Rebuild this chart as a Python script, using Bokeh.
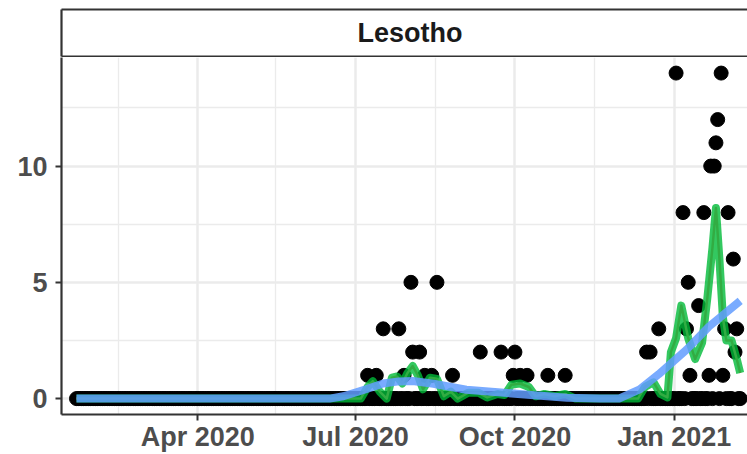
import pandas as pd
from bokeh.plotting import figure
from bokeh.models import (Range1d, FixedTicker, DatetimeTickFormatter,
                          ColumnDataSource, LinearAxis)
from bokeh.layouts import column
from bokeh.embed import file_html
from bokeh.resources import INLINE
from bokeh.core.properties import value

# ---------------- data ----------------
facet_label = "Lesotho"
series_start = "2020-01-22"
series_end = "2021-02-08"

# days with a non-zero count (all other days in the series are 0)
nonzero_dates = [
    "2020-07-08", "2020-07-13", "2020-07-17", "2020-07-26", "2020-07-29",
    "2020-08-02", "2020-08-03", "2020-08-07", "2020-08-10", "2020-08-14",
    "2020-08-17", "2020-08-26", "2020-09-11", "2020-09-23", "2020-09-30",
    "2020-10-01", "2020-10-04", "2020-10-08", "2020-10-20", "2020-10-30",
    "2020-12-16", "2020-12-18", "2020-12-23", "2021-01-02", "2021-01-06",
    "2021-01-08", "2021-01-09", "2021-01-10", "2021-01-15", "2021-01-18",
    "2021-01-21", "2021-01-22", "2021-01-24", "2021-01-25", "2021-01-26",
    "2021-01-28", "2021-01-29", "2021-01-30", "2021-02-01", "2021-02-04",
    "2021-02-05", "2021-02-06",
]
nonzero_values = [
    1, 1, 3, 3, 1,
    5, 2, 2, 1, 1,
    5, 1, 2, 2, 1,
    2, 1, 1, 1, 1,
    2, 2, 3, 14, 8,
    3, 5, 1, 4, 8,
    1, 10, 10, 11, 12,
    14, 1, 3, 8, 6,
    2, 3,
]

# rolling average line
avg_dates = [
    "2020-01-22", "2020-07-04", "2020-07-08", "2020-07-11", "2020-07-15",
    "2020-07-19", "2020-07-22", "2020-07-25", "2020-07-28", "2020-07-31",
    "2020-08-03", "2020-08-06", "2020-08-09", "2020-08-13", "2020-08-17",
    "2020-08-21", "2020-08-25", "2020-08-29", "2020-09-04", "2020-09-10",
    "2020-09-15", "2020-09-21", "2020-09-25", "2020-09-29", "2020-10-04",
    "2020-10-09", "2020-10-13", "2020-10-18", "2020-10-24", "2020-10-30",
    "2020-11-05", "2020-12-11", "2020-12-15", "2020-12-20", "2020-12-24",
    "2020-12-28", "2020-12-30", "2021-01-02", "2021-01-05", "2021-01-09",
    "2021-01-13", "2021-01-17", "2021-01-20", "2021-01-23", "2021-01-25",
    "2021-01-27", "2021-01-29", "2021-01-31", "2021-02-03", "2021-02-06",
    "2021-02-08",
]
avg_values = [
    0.0, 0.0, 0.5, 0.75, 0.3,
    0.0, 0.9, 0.95, 0.65, 1.1,
    1.4, 1.0, 0.4, 0.9, 0.85,
    0.1, 0.3, 0.0, 0.25, 0.25,
    0.05, 0.2, 0.15, 0.6, 0.65,
    0.5, 0.1, 0.2, 0.1, 0.2,
    0.0, 0.0, 0.5, 0.7, 0.2,
    0.05, 2.0, 2.6, 4.0, 2.6,
    1.7, 2.4, 4.3, 6.5, 8.2,
    6.0, 3.5, 2.5, 2.5, 1.7,
    1.1,
]

# smooth trend line
trend_dates = [
    "2020-01-22", "2020-06-16", "2020-06-24", "2020-07-07", "2020-07-17",
    "2020-07-26", "2020-08-03", "2020-08-15", "2020-09-03", "2020-09-23",
    "2020-10-12", "2020-10-31", "2020-11-19", "2020-11-30", "2020-12-12",
    "2020-12-23", "2021-01-08", "2021-01-21", "2021-02-08",
]
trend_values = [
    0.0, 0.0, 0.1, 0.4, 0.65,
    0.74, 0.76, 0.64, 0.38, 0.26,
    0.14, 0.04, 0.0, 0.0, 0.4,
    1.05, 2.1, 3.1, 4.2,
]

x_tick_dates = ["2020-04-01", "2020-07-01", "2020-10-01", "2021-01-01"]
x_minor_dates = ["2020-02-15", "2020-05-16", "2020-08-16", "2020-11-16", "2021-02-15"]
y_ticks = [0, 5, 10]
y_minor = [2.5, 7.5, 12.5]
x_limits = ["2020-01-13 08:24", "2021-02-12 05:00"]
y_limits = [-0.684, 14.67]
strip_label_date = "2020-08-01 11:00"

# ---------------- build ----------------
nz = dict(zip(pd.to_datetime(nonzero_dates), nonzero_values))
all_days = list(pd.date_range(series_start, series_end, freq="D"))
pt_y = [nz.get(d, 0) for d in all_days]
points = ColumnDataSource(dict(x=all_days, y=pt_y))
avg = ColumnDataSource(dict(x=pd.to_datetime(avg_dates), y=avg_values))
trend = ColumnDataSource(dict(x=pd.to_datetime(trend_dates), y=trend_values))

def ms(s):
    return pd.Timestamp(s).value / 1e6

xr = Range1d(start=pd.Timestamp(x_limits[0]), end=pd.Timestamp(x_limits[1]))

FONT = "Liberation Sans"
BORDER = "#333333"
GRID = "#EBEBEB"

def border_axis():
    return LinearAxis(ticker=FixedTicker(ticks=[]), axis_line_color=BORDER,
                      axis_line_width=2.2, major_tick_out=0, major_tick_in=0,
                      minor_tick_out=0, minor_tick_in=0, major_label_standoff=0,
                      major_label_text_font_size="0px")

# strip
s = figure(width=747, height=57, x_range=xr, y_range=Range1d(0, 1),
           x_axis_location=None, y_axis_location=None,
           output_backend="svg", toolbar_location=None,
           min_border_left=61, min_border_right=0, min_border_top=9, min_border_bottom=1)
s.outline_line_color = None
s.xgrid.visible = False
s.ygrid.visible = False
s.text(x=[pd.Timestamp(strip_label_date)], y=[0.5], text=[facet_label],
       text_font=value(FONT), text_font_style="bold", text_font_size="27px",
       text_color="#1A1A1A", text_align="center", text_baseline="middle")
s.add_layout(border_axis(), "left")
s.add_layout(border_axis(), "above")
s.add_layout(border_axis(), "below")

# main panel
p = figure(width=747, height=397, x_axis_type="datetime", x_range=xr,
           y_range=Range1d(*y_limits), output_backend="svg", toolbar_location=None,
           min_border_left=61, min_border_right=0, min_border_top=0, min_border_bottom=38)
p.outline_line_color = None

xt = FixedTicker(ticks=[ms(d) for d in x_tick_dates], minor_ticks=[ms(d) for d in x_minor_dates])
yt = FixedTicker(ticks=y_ticks, minor_ticks=y_minor)
p.xaxis.ticker = xt
p.yaxis.ticker = yt
p.xgrid.ticker = xt
p.ygrid.ticker = yt
p.xaxis.formatter = DatetimeTickFormatter(days="%b %Y", months="%b %Y", years="%b %Y")

for g in (p.xgrid, p.ygrid):
    g.grid_line_color = GRID
    g.grid_line_width = 2.5
    g.minor_grid_line_color = GRID
    g.minor_grid_line_width = 1.3

for ax in (p.xaxis, p.yaxis):
    ax.axis_line_color = BORDER
    ax.axis_line_width = 2.2
    ax.major_tick_line_color = BORDER
    ax.major_tick_line_width = 2
    ax.major_tick_out = 6
    ax.major_tick_in = 0
    ax.minor_tick_line_color = None
    ax.major_label_text_font = FONT
    ax.major_label_text_font_style = "bold"
    ax.major_label_text_font_size = "27px"
    ax.major_label_text_color = "#4D4D4D"
p.yaxis.major_label_standoff = 8
p.xaxis.major_label_standoff = 1

p.scatter(x="x", y="y", source=points, size=14, color="black")
p.line(x="x", y="y", source=avg, line_width=2.5, color="#F8766D", line_join="round")
p.line(x="x", y="y", source=avg, line_width=8, color="#00BA38", alpha=0.8, line_join="round")
p.line(x="x", y="y", source=trend, line_width=8, color="#619CFF", alpha=0.85, line_join="round")

layout = column(s, p)
open("out.html", "w").write(file_html(layout, INLINE))
